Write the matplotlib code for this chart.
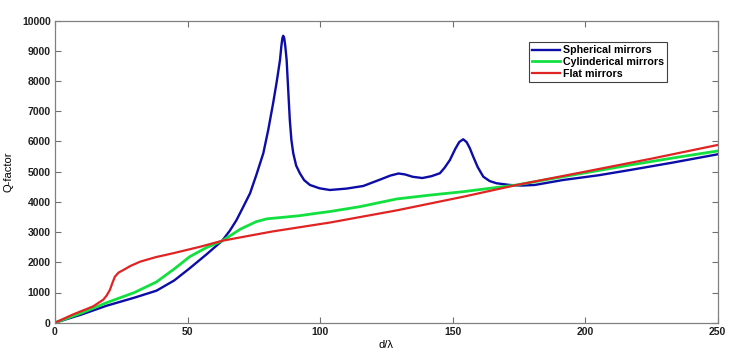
import numpy as np
import matplotlib
matplotlib.use("Agg")
import matplotlib.pyplot as plt

plt.rcParams['font.family'] = ['Liberation Sans', 'DejaVu Sans']

# Spherical mirrors (blue)
sph_x = [0, 10, 19.4, 30, 38.3, 45, 50.8, 57, 63.1, 66, 68.5, 71, 73.6, 76, 78.6, 80.5,
         82.3, 83.7, 84.9, 85.4, 85.8, 86.1, 86.5, 86.9, 87.4, 88, 88.6, 89.2, 89.9, 91,
         92.4, 94, 96.2, 99.8, 103.7, 110, 116.3, 123, 126.5, 129.6, 132, 135, 138.6, 142,
         145.2, 147, 149, 151, 152.5, 154, 155.3, 156.5, 157.8, 159.5, 161.6, 164, 166.6,
         171.6, 176, 181, 191.7, 205, 217, 233, 250]
sph_y = [0, 270, 560, 830, 1060, 1400, 1800, 2250, 2715, 3050, 3400, 3830, 4285, 4900, 5609, 6400,
         7265, 8000, 8700, 9150, 9420, 9500, 9420, 9150, 8700, 7700, 6710, 6050, 5609, 5200,
         4947, 4720, 4560, 4450, 4394, 4440, 4526, 4750, 4870, 4940, 4910, 4830, 4790, 4850,
         4947, 5130, 5387, 5750, 5980, 6073, 5980, 5780, 5497, 5150, 4834, 4690, 4616,
         4560, 4540, 4560, 4725, 4880, 5056, 5300, 5575]

# Cylinderical mirrors (green)
cyl_x = [0, 10, 19.4, 30, 38.3, 45, 50.8, 57, 63.2, 70, 75.9, 80, 86.1, 92, 98.7, 103.7,
         115, 128.9, 141, 154, 165, 174.2, 191.7, 217, 235, 250]
cyl_y = [0, 320, 660, 1000, 1350, 1780, 2185, 2480, 2715, 3100, 3344, 3440, 3490, 3540, 3623, 3680,
         3841, 4096, 4220, 4338, 4460, 4560, 4834, 5222, 5480, 5685]

# Flat mirrors (red)
flat_x = [0, 7, 14.4, 18.2, 19.5, 20.7, 21.6, 22.6, 24, 25.8, 28.5, 32.1, 38, 44.5, 55, 63.2,
          82, 104, 129, 154, 174.2, 200, 225, 250]
flat_y = [0, 280, 540, 760, 900, 1083, 1300, 1523, 1660, 1745, 1880, 2020, 2170, 2298, 2520, 2715,
          3020, 3320, 3720, 4170, 4560, 5000, 5430, 5884]

x_ticks = [0, 50, 100, 150, 200, 250]
y_ticks = [0, 1000, 2000, 3000, 4000, 5000, 6000, 7000, 8000, 9000, 10000]

fig = plt.figure(figsize=(7.33, 3.6), dpi=100)
ax = fig.add_axes([0.075, 0.1036, 0.904, 0.839])

ax.plot(sph_x, sph_y, color='#0c0ca8', lw=1.7, label='Spherical mirrors', solid_joinstyle='round')
ax.plot(cyl_x, cyl_y, color='#12e040', lw=2.0, label='Cylinderical mirrors', solid_joinstyle='round')
ax.plot(flat_x, flat_y, color='#e02424', lw=1.6, label='Flat mirrors', solid_joinstyle='round')

ax.set_xlim(0, 250)
ax.set_ylim(0, 10000)
ax.set_xticks(x_ticks)
ax.set_yticks(y_ticks)
ax.tick_params(direction='in', top=True, right=True, length=4, color='#707070',
               labelsize=7.5, pad=3)
for lab in ax.get_xticklabels() + ax.get_yticklabels():
    lab.set_fontweight('bold')
    lab.set_color('#202020')
for s in ax.spines.values():
    s.set_color('#808080')
    s.set_linewidth(0.9)

ax.set_xlabel('d/\u03bb', fontsize=8, labelpad=2)
ax.set_ylabel('Q-factor', fontsize=8, labelpad=6)

leg = ax.legend(loc='upper right', bbox_to_anchor=(0.91, 0.883), bbox_transform=fig.transFigure,
                fancybox=False, framealpha=1, edgecolor='#404040', fontsize=7.7,
                handlelength=2.6, handletextpad=0.3, borderpad=0.3, labelspacing=0.15,
                borderaxespad=0)
leg.get_frame().set_linewidth(0.8)
for t in leg.get_texts():
    t.set_fontweight('bold')

fig.savefig('out.png', dpi=100)
